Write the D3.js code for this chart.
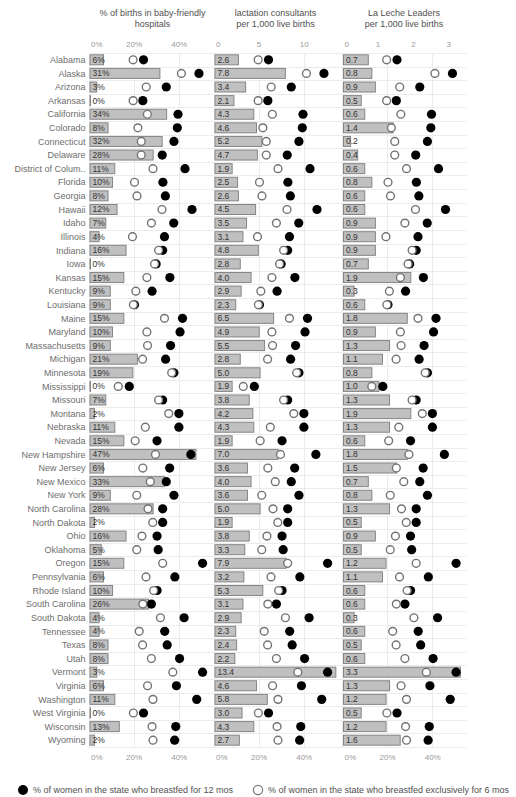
<!DOCTYPE html>
<html lang="en">
<head>
<meta charset="utf-8" />
<title>Breastfeeding support by state</title>
<script src="https://d3js.org/d3.v7.min.js"></script>
<style>
    body {
        margin: 0;
        background: #fff;
        font-family: "Liberation Sans", Arial, sans-serif;
    }
    .grid line { stroke: #ececec; shape-rendering: crispEdges; }
    .tick-label { fill: #9a9a9a; font-size: 8px; }
    .state { fill: #6e6e6e; font-size: 9px; }
    .title { fill: #505050; font-size: 9px; }
    .barlabel { fill: #333; font-size: 8.5px; }
    .legend { fill: #505050; font-size: 9px; }
</style>
</head>
<body>
<script>
// rows, top to bottom
var states = ["Alabama", "Alaska", "Arizona", "Arkansas", "California", "Colorado", "Connecticut",
    "Delaware", "District of Colum..", "Florida", "Georgia", "Hawaii", "Idaho", "Illinois", "Indiana",
    "Iowa", "Kansas", "Kentucky", "Louisiana", "Maine", "Maryland", "Massachusetts", "Michigan",
    "Minnesota", "Mississippi", "Missouri", "Montana", "Nebraska", "Nevada", "New Hampshire",
    "New Jersey", "New Mexico", "New York", "North Carolina", "North Dakota", "Ohio", "Oklahoma",
    "Oregon", "Pennsylvania", "Rhode Island", "South Carolina", "South Dakota", "Tennessee", "Texas",
    "Utah", "Vermont", "Virginia", "Washington", "West Virginia", "Wisconsin", "Wyoming"];

// bar values
var babyFriendly = [6, 31, 3, 0, 34, 8, 32, 28, 11, 10, 8, 12, 7, 4, 16, 0, 15, 9, 9, 15, 10, 9, 21,
    19, 0, 7, 2, 11, 15, 47, 6, 33, 9, 28, 2, 16, 5, 15, 6, 10, 26, 4, 4, 8, 8, 3, 6, 11, 0, 13, 2];
var consultants = [2.6, 7.8, 3.4, 2.1, 4.3, 4.6, 5.2, 4.7, 1.9, 2.5, 2.6, 4.5, 3.5, 3.1, 4.8, 2.8, 4.0,
    2.9, 2.3, 6.5, 4.9, 5.5, 2.8, 5.0, 1.9, 3.8, 4.2, 4.3, 1.9, 7.0, 3.6, 4.0, 3.6, 5.0, 1.9, 3.8, 3.3,
    7.9, 3.2, 5.3, 3.1, 2.9, 2.3, 2.4, 2.2, 13.4, 4.6, 5.8, 3.0, 4.3, 2.7];
var leaders = [0.7, 0.8, 0.9, 0.5, 0.6, 1.4, 0.2, 0.4, 0.6, 0.8, 0.6, 0.6, 0.9, 0.9, 0.9, 0.7, 1.9,
    0.3, 0.6, 1.8, 0.9, 1.3, 1.1, 0.8, 1.0, 1.3, 1.9, 1.3, 0.6, 1.8, 1.5, 0.7, 0.8, 1.3, 0.5, 0.9, 0.5,
    1.2, 1.1, 0.6, 0.6, 0.3, 0.6, 0.5, 0.6, 3.3, 1.3, 1.2, 0.5, 1.2, 1.6];

// dot values (% of women)
var bf12 = [24.4, 49, 34.5, 24.1, 39.7, 39.4, 37.9, 32.7, 42.8, 33, 34.1, 45.9, 37.8, 33.7, 32.9, 30,
    36.1, 28.2, 20.4, 41.7, 40.6, 36.4, 34.2, 37.9, 18.1, 32.9, 40.1, 40.1, 30.4, 45.4, 36, 34.5, 37.9,
    32.9, 32.9, 30.4, 30.9, 50.6, 38.3, 30.4, 27.9, 42.4, 33.8, 34.9, 40.4, 50.6, 39, 48, 24.4, 38.7, 38.2];
var bf6 = [19.8, 41.2, 25.6, 19.8, 26.1, 21.9, 23.4, 23.4, 28.6, 20.4, 21.5, 32.6, 27.9, 19.5, 31.1,
    29.3, 25.9, 21, 19.9, 33.7, 25.9, 26.2, 24, 36.9, 13.2, 31.1, 35.6, 25.2, 20.7, 29.7, 24.1, 27.4,
    21.4, 26.4, 28.5, 23.7, 21.4, 32.9, 25.5, 28.9, 24.1, 31.9, 22.5, 24, 27.9, 37.4, 26.2, 28.6, 19.9,
    28.2, 28.6];

var titles = [["% of births in baby-friendly", "hospitals"],
    ["lactation consultants", "per 1,000 live births"],
    ["La Leche Leaders", "per 1,000 live births"]];
var barTicks = [[0, 20, 40], [0, 5, 10], [0, 1, 2, 3]];
var dotTicks = [0, 20, 40];
var legendLabels = ["% of women in the state who breastfed for 12 mos",
    "% of women in the state who breastfed exclusively for 6 mos"];

var W = 516, H = 797;
var paneW = 124;
var paneLeft = [88.5, 213.5, 342];
var plotTop = 53, plotBottom = 747;

var svg = d3.select("body").append("svg")
    .attr("width", W).attr("height", H);

var y = d3.scaleBand().domain(states).range([plotTop, plotBottom]);
var xDot = d3.scaleLinear().domain([0, 55]).range([0, paneW]);

var panes = [
    { values: babyFriendly, x: d3.scaleLinear().domain([0, 55]).range([0, paneW]), fmt: function (v) { return v + "%"; }, tick: function (v) { return v + "%"; } },
    { values: consultants, x: d3.scaleLinear().domain([0, 13.75]).range([0, paneW]), fmt: d3.format(".1f"), tick: d3.format("d") },
    { values: leaders, x: d3.scaleLinear().domain([0, 3.5]).range([0, paneW]), fmt: d3.format(".1f"), tick: d3.format("d") }
];

// horizontal row lines
var grid = svg.append("g").attr("class", "grid");
var rowEdges = states.map(function (s) { return y(s); }).concat([plotBottom]);
grid.selectAll("line.h").data(rowEdges).enter().append("line")
    .attr("x1", paneLeft[0]).attr("x2", paneLeft[2] + paneW + 1)
    .attr("y1", function (d) { return Math.round(d) + 0.5; })
    .attr("y2", function (d) { return Math.round(d) + 0.5; });

panes.forEach(function (p, i) {
    var g = svg.append("g").attr("transform", "translate(" + paneLeft[i] + ",0)");

    // vertical grid on the % axis
    g.selectAll("line.v").data([0, 20, 40]).enter().append("line")
        .attr("class", "v")
        .attr("x1", function (d) { return Math.round(xDot(d)) + 0.5; })
        .attr("x2", function (d) { return Math.round(xDot(d)) + 0.5; })
        .attr("y1", plotTop).attr("y2", plotBottom)
        .attr("stroke", "#ececec").attr("shape-rendering", "crispEdges");

    // titles
    var t = g.append("text").attr("class", "title").attr("text-anchor", "middle")
        .attr("x", paneW / 2 + (i == 0 ? 2 : 0)).attr("y", 16);
    titles[i].forEach(function (line, k) {
        t.append("tspan").attr("x", paneW / 2 + (i == 0 ? 2 : 0)).attr("dy", k == 0 ? 0 : 11).text(line);
    });

    // top axis (bar values)
    var topAxis = g.append("g").attr("transform", "translate(0,49.5)")
        .call(d3.axisTop(p.x).tickValues(barTicks[i]).tickSize(0).tickFormat(p.tick));
    topAxis.select(".domain").remove();
    topAxis.selectAll("text").attr("class", "tick-label").attr("fill", null)
        .attr("font-size", null).attr("font-family", null)
        .attr("text-anchor", function (d) { return d == 0 ? "start" : "middle"; })
        .attr("dx", function (d) { return d == 0 ? 2 : 0; });

    // bottom axis (% of women)
    var botAxis = g.append("g").attr("transform", "translate(0,751)")
        .call(d3.axisBottom(xDot).tickValues(dotTicks).tickSize(0).tickFormat(function (v) { return v + "%"; }));
    botAxis.select(".domain").remove();
    botAxis.selectAll("text").attr("class", "tick-label").attr("fill", null)
        .attr("font-size", null).attr("font-family", null)
        .attr("text-anchor", function (d) { return d == 0 ? "start" : "middle"; })
        .attr("dx", function (d) { return d == 0 ? 2 : 0; });

    // bars
    var rows = states.map(function (s, k) { return { s: s, v: p.values[k], a: bf12[k], b: bf6[k] }; });
    g.selectAll("rect.bar").data(rows).enter().append("rect")
        .attr("x", 1.5)
        .attr("y", function (d) { return y(d.s) + y.bandwidth() / 2 - 5; })
        .attr("width", function (d) { return Math.max(p.x(d.v), 0.5); })
        .attr("height", 10)
        .attr("fill", "#c0c0c0").attr("stroke", "#858585").attr("stroke-width", 1);

    g.selectAll("text.barlabel").data(rows).enter().append("text")
        .attr("class", "barlabel")
        .attr("x", 4)
        .attr("y", function (d) { return y(d.s) + y.bandwidth() / 2 + 3; })
        .text(function (d) { return p.fmt(d.v); });

    // dots: filled first, open on top
    g.selectAll("circle.f").data(rows).enter().append("circle")
        .attr("cx", function (d) { return xDot(d.a); })
        .attr("cy", function (d) { return y(d.s) + y.bandwidth() / 2; })
        .attr("r", 4.6).attr("fill", "#000");
    g.selectAll("circle.o").data(rows).enter().append("circle")
        .attr("cx", function (d) { return xDot(d.b); })
        .attr("cy", function (d) { return y(d.s) + y.bandwidth() / 2; })
        .attr("r", 3.9).attr("fill", "#fff").attr("stroke", "#737373").attr("stroke-width", 1.4);
});

// state names
svg.append("g").selectAll("text").data(states).enter().append("text")
    .attr("class", "state").attr("text-anchor", "end")
    .attr("fill", "#6e6e6e")
    .attr("x", 85.5)
    .attr("y", function (d) { return y(d) + y.bandwidth() / 2 + 3.2; })
    .text(function (d) { return d; });

// legend
var lg = svg.append("g").attr("transform", "translate(0,790)");
lg.append("circle").attr("cx", 23).attr("cy", 0).attr("r", 5).attr("fill", "#000");
lg.append("text").attr("class", "legend").attr("x", 33).attr("y", 3.2).text(legendLabels[0]);
lg.append("circle").attr("cx", 258).attr("cy", 0).attr("r", 4.6)
    .attr("fill", "#fff").attr("stroke", "#777").attr("stroke-width", 1.2);
lg.append("text").attr("class", "legend").attr("x", 268).attr("y", 3.2).text(legendLabels[1]);
</script>
</body>
</html>
